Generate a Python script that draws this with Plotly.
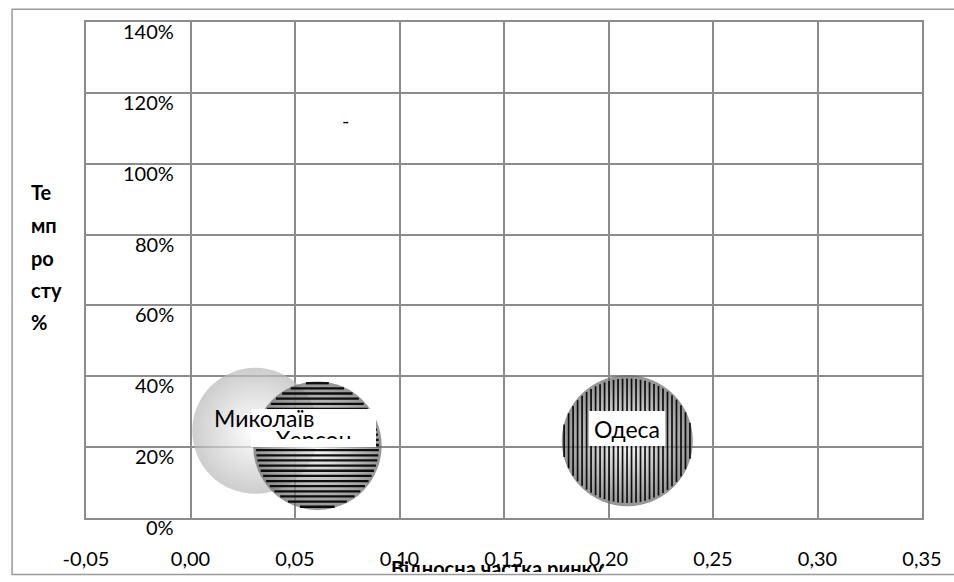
import numpy as np
import plotly.graph_objects as go

# ---------------- data ----------------
regions = ["Миколаїв", "Херсон", "Одеса"]
market_share = [0.031, 0.0607, 0.209]      # відносна частка ринку
growth_rate = [0.246, 0.204, 0.218]        # темп росту
bubble_size = [1.0, 1.02, 1.04]

x_tick_vals = [-0.05, 0.0, 0.05, 0.10, 0.15, 0.20, 0.25, 0.30, 0.35]
x_tick_text = ["-0,05", "0,00", "0,05", "0,10", "0,15", "0,20", "0,25", "0,30", "0,35"]
y_tick_vals = [0.0, 0.2, 0.4, 0.6, 0.8, 1.0, 1.2, 1.4]
y_tick_text = ["0%", "20%", "40%", "60%", "80%", "100%", "120%", "140%"]

x_title = "Відносна частка ринку"
y_title_lines = ["Те", "мп", "ро", "сту", "%"]
stray_label = "-"
stray_label_x = 0.074
stray_label_y = 1.123

# ---------------- layout geometry ----------------
W, H = 954, 582
ML, MR, MT, MB = 86, 31, 22, 59
PW, PH = W - ML - MR, H - MT - MB
XR = [-0.05, 0.35]
YR = [0.0, 1.4]
px_x = PW / (XR[1] - XR[0])
px_y = PH / (YR[1] - YR[0])
SIZEREF = 1 / 126.0

FONT = "Lato, 'Open Sans', sans-serif"

fig = go.Figure()

edge_col = ["#b8b8b8", "#666666", "#666666"]
stripe_dir = [None, "h", "v"]
stripe_step = [None, 5.2, 4.5]
stripe_w = [None, 2.3, 1.7]

for i, name in enumerate(regions):
    fig.add_trace(go.Scatter(
        x=[market_share[i]], y=[growth_rate[i]], mode="markers",
        marker=dict(size=[bubble_size[i]], sizemode="diameter", sizeref=SIZEREF,
                    color=edge_col[i], line=dict(width=0),
                    gradient=dict(type="radial", color="white")),
        name=name, showlegend=False, hoverinfo="text", text=[name]))
    if stripe_dir[i]:
        r = bubble_size[i] / SIZEREF / 2
        xs, ys = [], []
        step = stripe_step[i]
        off = -r + step / 2
        while off < r:
            half = np.sqrt(max(r * r - off * off, 0)) * 0.96
            if stripe_dir[i] == "h":
                xs += [market_share[i] - half / px_x, market_share[i] + half / px_x, None]
                ys += [growth_rate[i] + off / px_y, growth_rate[i] + off / px_y, None]
            else:
                xs += [market_share[i] + off / px_x, market_share[i] + off / px_x, None]
                ys += [growth_rate[i] - half / px_y, growth_rate[i] + half / px_y, None]
            off += step
        fig.add_trace(go.Scatter(x=xs, y=ys, mode="lines",
                                 line=dict(color="rgba(0,0,0,0.92)", width=stripe_w[i]),
                                 showlegend=False, hoverinfo="skip"))

annotations = []
lab_font = dict(family=FONT, size=23, color="black")
# Kherson label: white box, then clipped text
annotations.append(dict(x=market_share[1], y=growth_rate[1], xref="x", yref="y",
                        text=" ", showarrow=False, bgcolor="white",
                        width=125, height=38, borderwidth=0, borderpad=0,
                        xshift=-3.5, yshift=18, font=lab_font))
annotations.append(dict(x=market_share[1], y=growth_rate[1], xref="x", yref="y",
                        text="<span style='color:rgba(255,255,255,0)'>" + regions[1] + "</span><br>" + regions[1],
                        showarrow=False, width=125, height=30, borderwidth=0, borderpad=0,
                        valign="middle", xshift=-3.5, yshift=22, font=lab_font))
# Mykolaiv label (on top of Kherson box)
annotations.append(dict(x=market_share[0], y=growth_rate[0], xref="x", yref="y",
                        text=regions[0], showarrow=False, xshift=9, yshift=13,
                        font=lab_font))
# Odesa label
annotations.append(dict(x=market_share[2], y=growth_rate[2], xref="x", yref="y",
                        text=regions[2], showarrow=False, bgcolor="white",
                        width=76, height=35, valign="middle", borderwidth=0, borderpad=0,
                        xshift=0, yshift=12, font=lab_font))
annotations.append(dict(x=stray_label_x, y=stray_label_y, xref="x", yref="y",
                        text=stray_label, showarrow=False,
                        font=dict(family=FONT, size=20, color="black")))

# y tick labels
for v, t in zip(y_tick_vals, y_tick_text):
    annotations.append(dict(x=(176 - ML) / PW, y=v, xref="paper", yref="y",
                            text=t, showarrow=False, xanchor="right", yanchor="middle",
                            yshift=-9, font=dict(family=FONT, size=20, color="black")))

# y title (wrapped)
line_py = [194, 227, 260, 293, 325]
for t, py in zip(y_title_lines, line_py):
    annotations.append(dict(x=(29 - ML) / PW, y=(H - MB - py) / PH, xref="paper", yref="paper",
                            text="<b>" + t + "</b>", showarrow=False,
                            xanchor="left", yanchor="middle",
                            font=dict(family=FONT, size=20, color="black")))

# x title (clipped by chart border)
annotations.append(dict(x=(497 - ML) / PW, y=(H - MB - 561) / PH, xref="paper", yref="paper",
                        text="<b>" + x_title + "</b>", showarrow=False,
                        xanchor="center", yanchor="top", height=16, valign="top",
                        borderpad=0, borderwidth=0,
                        font=dict(family=FONT, size=20, color="black")))

shapes = [dict(type="rect", xref="paper", yref="paper",
               x0=(12 - ML) / PW, x1=(W + 5 - ML) / PW,
               y0=(H - MB - 580) / PH, y1=(H - MB - 9) / PH,
               line=dict(color="#9a9a9a", width=1.5), fillcolor="rgba(0,0,0,0)",
               layer="below")]

grid = "#8c8c8c"
fig.update_layout(
    width=W, height=H,
    margin=dict(l=ML, r=MR, t=MT, b=MB),
    paper_bgcolor="white", plot_bgcolor="white",
    font=dict(family=FONT, size=20, color="black"),
    xaxis=dict(range=XR, tickvals=x_tick_vals, ticktext=x_tick_text,
               showgrid=True, gridcolor=grid, gridwidth=1.5,
               showline=True, linecolor=grid, linewidth=1.5, mirror=True,
               zeroline=False, ticks="", ticklabelstandoff=22,
               tickfont=dict(family=FONT, size=20, color="black")),
    yaxis=dict(range=YR, tickvals=y_tick_vals, showticklabels=False,
               showgrid=True, gridcolor=grid, gridwidth=1.5,
               showline=True, linecolor=grid, linewidth=1.5, mirror=True,
               zeroline=False, ticks=""),
    annotations=annotations,
    shapes=shapes,
    showlegend=False,
)

fig.write_html("out.html", config={"displayModeBar": False},
               post_script="document.body.style.margin='0px';")
